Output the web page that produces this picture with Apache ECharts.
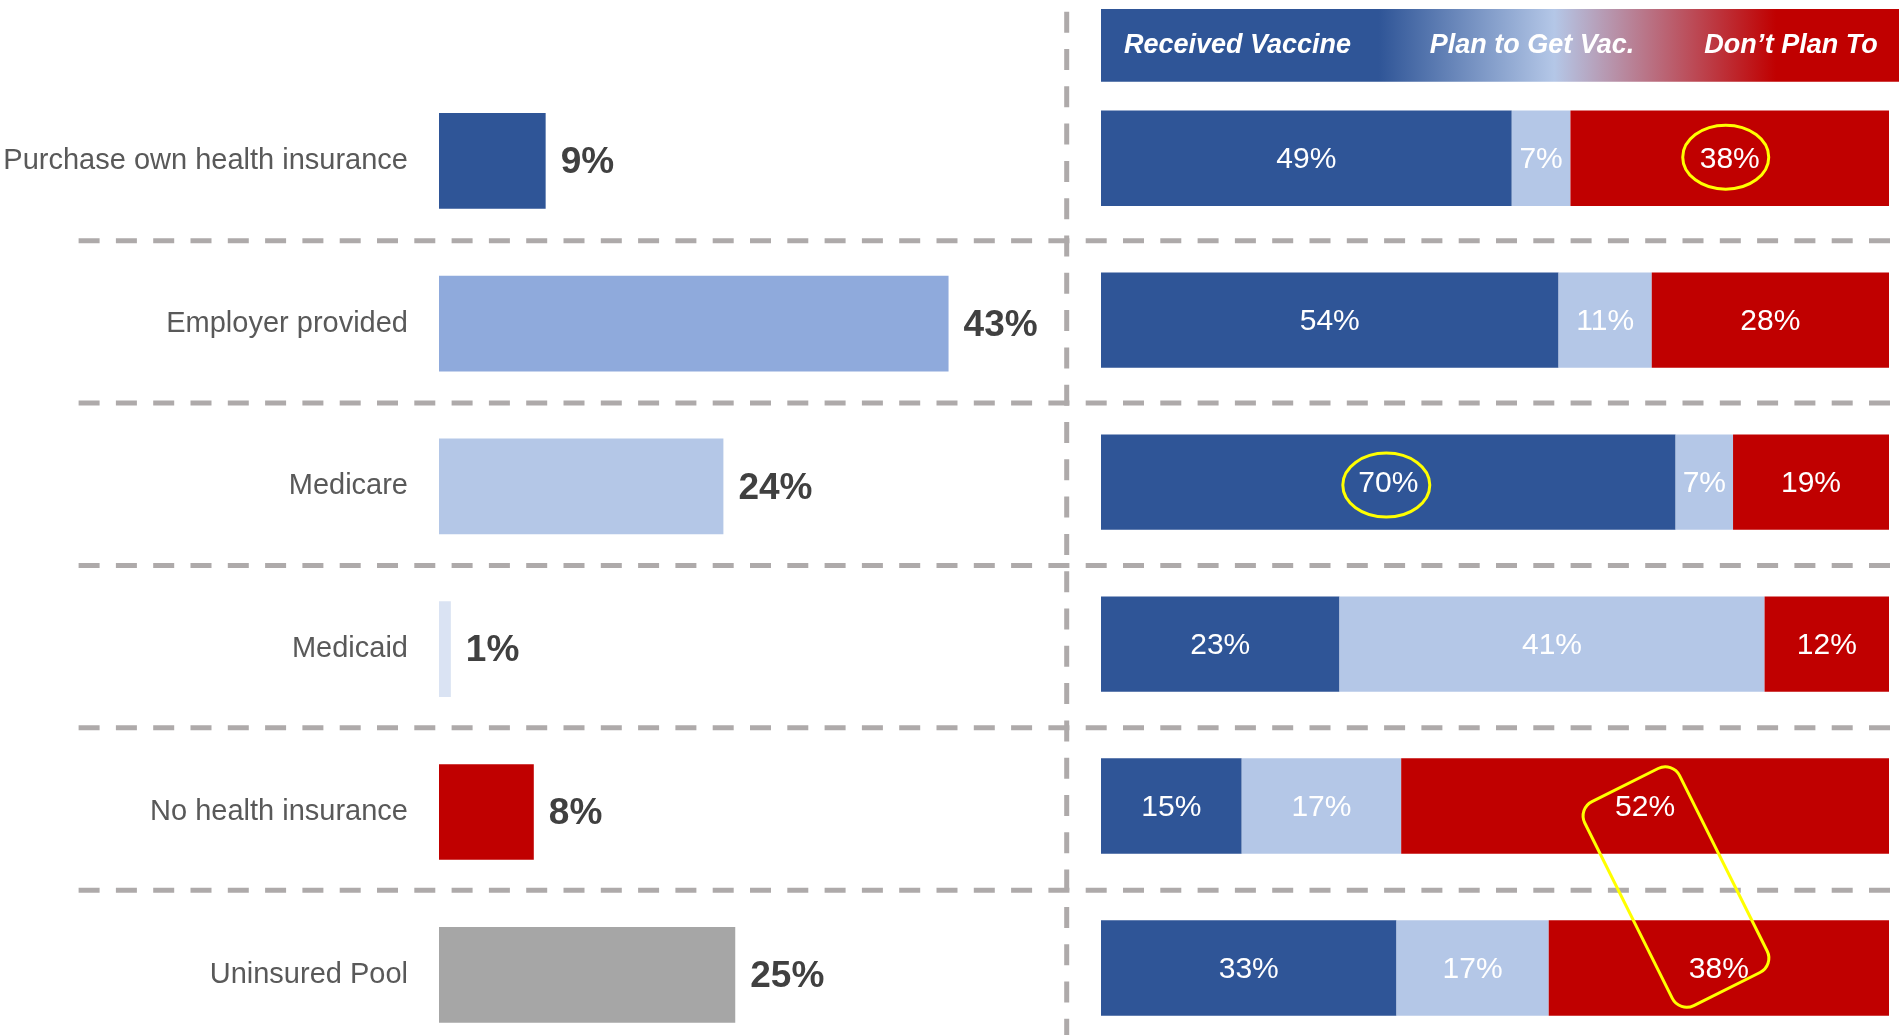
<!DOCTYPE html>
<html>
<head>
<meta charset="utf-8">
<script src="https://cdn.jsdelivr.net/npm/echarts@6/dist/echarts.min.js"></script>
<style>
html,body{margin:0;padding:0;background:#fff;}
#main{width:1899px;height:1035px;}
</style>
</head>
<body>
<div id="main"></div>
<script>
// ---- data ----
const categories = ['Purchase own health insurance', 'Employer provided', 'Medicare', 'Medicaid', 'No health insurance', 'Uninsured Pool'];
const shareValues = [9, 43, 24, 1, 8, 25];
const receivedVaccine = [49, 54, 70, 23, 15, 33];
const planToGetVac = [7, 11, 7, 41, 17, 17];
const dontPlanTo = [38, 28, 19, 12, 52, 38];
const legendLabels = ['Received Vaccine', 'Plan to Get Vac.', 'Don\u2019t Plan To'];

// ---- styles ----
const shareColors = ['#2F5597', '#8FAADC', '#B4C7E7', '#DAE3F3', '#C00000', '#A6A6A6'];
const stackColors = ['#2F5597', '#B4C7E7', '#C00000'];
const FONT = "'Liberation Sans', Arial, sans-serif";
const DASH = '#AEAAAA';
const YEL = '#FFFF00';

const chart = echarts.init(document.getElementById('main'), null, {renderer: 'canvas'});

const totals = categories.map((c, i) => receivedVaccine[i] + planToGetVac[i] + dontPlanTo[i]);
const stackSeries = [receivedVaccine, planToGetVac, dontPlanTo].map((arr, k) => ({
  type: 'bar',
  name: legendLabels[k],
  stack: 'vac',
  xAxisIndex: 1,
  yAxisIndex: 1,
  barWidth: 95.4,
  itemStyle: {color: stackColors[k]},
  label: {
    show: true,
    position: 'inside',
    offset: [0, 2],
    color: '#ffffff',
    fontFamily: FONT,
    fontSize: 30,
    formatter: p => p.data.raw + '%'
  },
  data: arr.map((v, i) => ({value: v / totals[i] * 100, raw: v}))
}));

chart.setOption({
  animation: false,
  backgroundColor: '#ffffff',
  grid: [
    {left: 439, top: 79.4, width: 592.5, height: 976.8, outerBoundsMode: 'none', containLabel: false},
    {left: 1101, top: 77.2, width: 788, height: 971.8, outerBoundsMode: 'none', containLabel: false}
  ],
  xAxis: [
    {gridIndex: 0, type: 'value', min: 0, max: 50, show: false},
    {gridIndex: 1, type: 'value', min: 0, max: 100, show: false}
  ],
  yAxis: [
    {
      gridIndex: 0, type: 'category', inverse: true, data: categories,
      axisLine: {show: false}, axisTick: {show: false}, splitLine: {show: false},
      axisLabel: {margin: 31, fontSize: 29, color: '#595959', fontFamily: FONT}
    },
    {
      gridIndex: 1, type: 'category', inverse: true, data: categories, show: false
    }
  ],
  series: [
    {
      type: 'bar',
      xAxisIndex: 0,
      yAxisIndex: 0,
      barWidth: 95.7,
      label: {
        show: true,
        position: 'right',
        distance: 15,
        offset: [0, 2],
        formatter: '{c}%',
        fontFamily: FONT,
        fontWeight: 'bold',
        fontSize: 37,
        color: '#404040'
      },
      data: shareValues.map((v, i) => ({value: v, itemStyle: {color: shareColors[i]}}))
    }
  ].concat(stackSeries)
});

// ---- decorations positioned from the chart's own scales ----
const yL = categories.map(c => chart.convertToPixel({yAxisIndex: 0}, c));
const yR = categories.map(c => chart.convertToPixel({yAxisIndex: 1}, c));
const segCenter = (seriesIdx, row) => {
  let cum = 0;
  const arrs = [receivedVaccine, planToGetVac, dontPlanTo];
  for (let k = 0; k < seriesIdx; k++) cum += arrs[k][row] / totals[row] * 100;
  const v = arrs[seriesIdx][row] / totals[row] * 100;
  return chart.convertToPixel({xAxisIndex: 1, yAxisIndex: 1}, [cum + v / 2, categories[row]]);
};

const graphics = [];
// header gradient box
const hx0 = chart.convertToPixel({xAxisIndex: 1}, 0);
graphics.push({
  type: 'rect', z: 1,
  shape: {x: hx0, y: 9, width: 1899 - hx0, height: 72.7},
  style: {
    fill: new echarts.graphic.LinearGradient(0, 0, 1, 0, [
      {offset: 0, color: '#2F5597'},
      {offset: 0.348, color: '#2F5597'},
      {offset: 0.568, color: '#B4C7E7'},
      {offset: 0.846, color: '#C00000'},
      {offset: 1, color: '#C00000'}
    ])
  }
});
const headerCenters = [1237.5, 1532, 1791];
legendLabels.forEach((t, i) => {
  graphics.push({
    type: 'text', z: 2,
    x: headerCenters[i], y: 46,
    style: {
      text: t, fill: '#ffffff', font: 'italic bold 27px ' + FONT,
      align: 'center', verticalAlign: 'middle'
    }
  });
});
// vertical dashed divider
graphics.push({
  type: 'line', z: 0,
  shape: {x1: 1066.7, y1: 11.7, x2: 1066.7, y2: 1035},
  style: {stroke: DASH, lineWidth: 5, lineDash: [21, 16.3]}
});
// horizontal dashed separators between rows
for (let i = 0; i < categories.length - 1; i++) {
  const y = ((yL[i] + yL[i + 1]) / 2 + (yR[i] + yR[i + 1]) / 2) / 2;
  graphics.push({
    type: 'line', z: 0,
    shape: {x1: 78.6, y1: y, x2: 1899, y2: y},
    style: {stroke: DASH, lineWidth: 5, lineDash: [21, 16.3]}
  });
}
// yellow highlight ellipses
const c1 = segCenter(2, 0);
graphics.push({
  type: 'ellipse', z: 10,
  shape: {cx: c1[0] - 4, cy: c1[1] - 1, rx: 43, ry: 32},
  style: {fill: null, stroke: YEL, lineWidth: 3}
});
const c2 = segCenter(0, 2);
graphics.push({
  type: 'ellipse', z: 10,
  shape: {cx: c2[0] - 2, cy: c2[1] + 3, rx: 43.5, ry: 32},
  style: {fill: null, stroke: YEL, lineWidth: 3}
});
// rotated rounded box linking the two "Don't plan to" values
const a = segCenter(2, 4), b = segCenter(2, 5);
graphics.push({
  type: 'rect', z: 10,
  x: (a[0] + b[0]) / 2 - 6, y: (a[1] + b[1]) / 2,
  rotation: 0.463,
  shape: {x: -53, y: -114, width: 106, height: 228, r: 16},
  style: {fill: null, stroke: YEL, lineWidth: 3}
});

chart.setOption({graphic: graphics});
</script>
</body>
</html>
